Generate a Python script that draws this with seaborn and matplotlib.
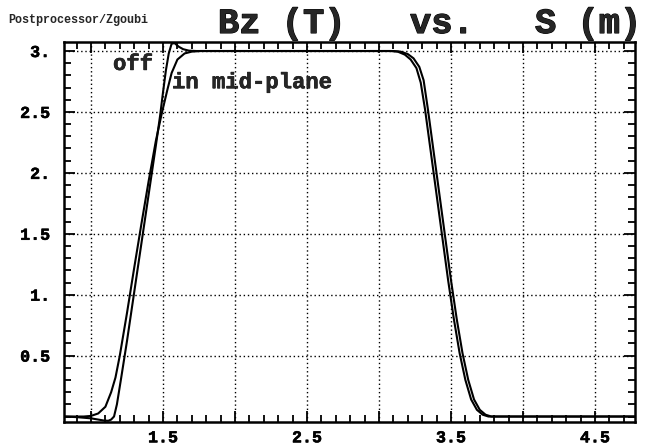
import matplotlib
matplotlib.use("Agg")
import matplotlib.pyplot as plt
import matplotlib.patheffects as pe
import seaborn as sns
import pandas as pd
from matplotlib.ticker import FixedLocator, FixedFormatter, MultipleLocator

# ---- data ----
s_off = [0.81, 0.90, 1.00, 1.05, 1.09, 1.12, 1.14, 1.16, 1.18, 1.21, 1.25, 1.30, 1.35,
         1.40, 1.45, 1.48, 1.50, 1.52, 1.54, 1.56, 1.58, 1.61, 1.64, 1.68, 1.73,
         3.10, 3.15, 3.20, 3.24, 3.28, 3.31, 3.34, 3.38, 3.42, 3.46, 3.50, 3.54,
         3.58, 3.62, 3.66, 3.70, 3.74, 3.78, 4.78]
bz_off = [0.0, -0.005, -0.015, -0.025, -0.033, -0.035, -0.025, 0.0, 0.10, 0.32, 0.62, 1.02, 1.42,
          1.82, 2.22, 2.47, 2.66, 2.84, 2.98, 3.06, 3.065, 3.035, 3.015, 3.003, 3.0,
          3.0, 2.995, 2.975, 2.94, 2.87, 2.76, 2.52, 2.17, 1.82, 1.47, 1.12, 0.80,
          0.52, 0.30, 0.14, 0.055, 0.015, 0.0, 0.0]

s_in = [0.81, 0.95, 1.00, 1.05, 1.10, 1.14, 1.17, 1.20, 1.25, 1.30, 1.35, 1.40, 1.45,
        1.49, 1.53, 1.56, 1.60, 1.65, 1.70, 1.76,
        3.08, 3.13, 3.18, 3.22, 3.26, 3.29, 3.32, 3.36, 3.40, 3.44, 3.48, 3.52,
        3.56, 3.60, 3.64, 3.68, 3.72, 3.76, 4.78]
bz_in = [0.0, 0.0, 0.005, 0.025, 0.08, 0.20, 0.32, 0.50, 0.85, 1.22, 1.58, 1.93, 2.26,
         2.48, 2.68, 2.82, 2.93, 2.98, 2.995, 3.0,
         3.0, 2.995, 2.97, 2.93, 2.86, 2.74, 2.52, 2.17, 1.82, 1.47, 1.12, 0.80,
         0.52, 0.30, 0.14, 0.055, 0.015, 0.0, 0.0]

x_ticks = [1.0, 1.5, 2.0, 2.5, 3.0, 3.5, 4.0, 4.5]
x_labels = ["", "1.5", "", "2.5", "", "3.5", "", "4.5"]
y_ticks = [0.5, 1.0, 1.5, 2.0, 2.5, 3.0]
y_labels = ["0.5", "1.", "1.5", "2.", "2.5", "3."]

df = pd.concat([
    pd.DataFrame({"S": s_off, "Bz": bz_off, "curve": "off"}),
    pd.DataFrame({"S": s_in, "Bz": bz_in, "curve": "in mid-plane"}),
], ignore_index=True)

sns.set_theme(style="white")
plt.rcParams["font.family"] = ["Liberation Mono", "DejaVu Sans Mono"]
plt.rcParams["font.weight"] = "bold"

heavy = [pe.withStroke(linewidth=0.4, foreground="black")]
heavy_big = [pe.withStroke(linewidth=0.8, foreground="black")]

fig = plt.figure(figsize=(6.5, 4.45), dpi=100)
ax = fig.add_axes([64/650, 1-422/445, (635-64)/650, (422-42)/445])

sns.lineplot(data=df, x="S", y="Bz", units="curve", estimator=None, sort=False,
             color="black", linewidth=1.5, ax=ax, legend=False)

ax.set_xlim(0.8125, 4.778)
ax.set_ylim(-0.045, 3.074)

ax.xaxis.set_major_locator(FixedLocator(x_ticks))
ax.xaxis.set_major_formatter(FixedFormatter(x_labels))
ax.xaxis.set_minor_locator(MultipleLocator(0.1))
ax.yaxis.set_major_locator(FixedLocator(y_ticks))
ax.yaxis.set_major_formatter(FixedFormatter(y_labels))
ax.yaxis.set_minor_locator(MultipleLocator(0.1))

ax.tick_params(which="both", direction="in", top=True, right=True, bottom=True, left=True,
               color="black", width=1.3, labelsize=12, labelcolor="black")
ax.tick_params(which="major", length=8)
ax.tick_params(axis="y", which="major", pad=10)
ax.tick_params(axis="x", which="major", pad=6)
ax.tick_params(which="minor", length=5)
for lab in ax.get_xticklabels() + ax.get_yticklabels():
    lab.set_fontweight("bold")
    lab.set_path_effects(heavy)

ax.grid(True, which="major", color="black", linestyle=(0, (1, 2)), linewidth=1.0)
for sp in ax.spines.values():
    sp.set_color("black")
    sp.set_linewidth(1.8)
ax.set_xlabel("")
ax.set_ylabel("")

ax.text(1.153, 2.89, "off", fontsize=16, fontweight="bold", ha="left", va="center",
        path_effects=heavy)
ax.text(1.5625, 2.74, "in mid-plane", fontsize=16, fontweight="bold", ha="left", va="center",
        path_effects=heavy)

fig.text(8/650, 1-20/445, "Postprocessor/Zgoubi", fontsize=8.5, fontweight="bold",
         ha="left", va="center")
fig.text(218/650, 1-33/445, "Bz (T)", fontsize=25.5, fontweight="bold", ha="left",
         va="baseline", path_effects=heavy_big)
fig.text(410/650, 1-33/445, "vs.", fontsize=25.5, fontweight="bold", ha="left",
         va="baseline", path_effects=heavy_big)
fig.text(535/650, 1-33/445, "S (m)", fontsize=25.5, fontweight="bold", ha="left",
         va="baseline", path_effects=heavy_big)

fig.savefig("out.png", dpi=100, facecolor="white")
